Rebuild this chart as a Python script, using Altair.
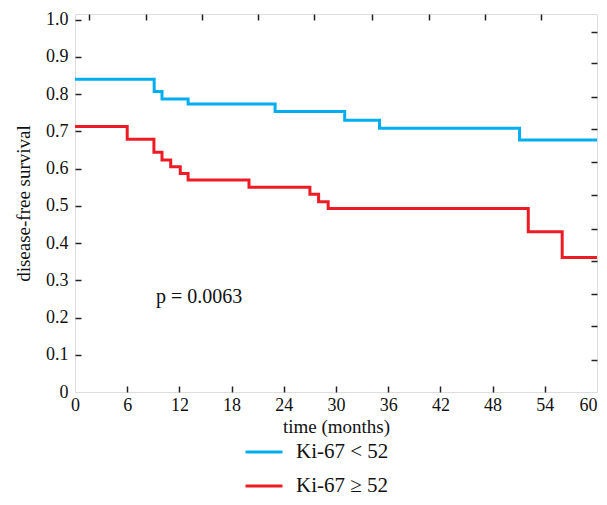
import altair as alt
import pandas as pd

# ---- data ----
groups = ["Ki-67 < 52", "Ki-67 ≥ 52"]
colors = ["#00AEEF", "#ED1C24"]

blue_t = [0, 9.1, 10, 13, 23, 31, 35, 51.1, 60]
blue_s = [0.840, 0.807, 0.787, 0.773, 0.753, 0.730, 0.708, 0.677, 0.677]

red_t = [0, 6, 9.07, 10, 11, 12.1, 13, 20, 27, 28, 29.1, 52.1, 56, 60]
red_s = [0.713, 0.679, 0.644, 0.623, 0.605, 0.587, 0.569, 0.550, 0.531,
         0.511, 0.493, 0.430, 0.361, 0.361]

x_ticks = [0, 6, 12, 18, 24, 30, 36, 42, 48, 54, 60]
y_ticks = [0, 0.1, 0.2, 0.3, 0.4, 0.5, 0.6, 0.7, 0.8, 0.9, 1.0]
top_ticks = [1.62, 8.13, 14.55, 20.98, 27.5, 34.1, 40.7, 47.15, 53.57]
right_ticks = [0.086, 0.176, 0.263, 0.352, 0.438, 0.530, 0.617, 0.706,
               0.792, 0.883, 0.968]

p_label = ["p = 0.0063"]
p_x = [9.3]
p_y = [0.255]

# ---- tables ----
df = pd.DataFrame({
    "t": blue_t + red_t,
    "s": blue_s + red_s,
    "g": [groups[0]] * len(blue_t) + [groups[1]] * len(red_t),
})
ptxt = pd.DataFrame({"label": p_label, "x": p_x, "y": p_y})

FONT = "Liberation Serif"
xs = alt.Scale(domain=[0, 60], nice=False, zero=False)
ys = alt.Scale(domain=[0, 1.015], nice=False)

lines = alt.Chart(df).mark_line(interpolate="step-after", strokeWidth=3).encode(
    x=alt.X("t:Q", scale=xs, axis=alt.Axis(
        orient="bottom", values=x_ticks, title="time (months)", tickSize=0,
        labelPadding=4, titlePadding=3, domain=False, grid=False,
        labelFont=FONT, labelFontSize=18, labelColor="#111",
        labelAlign={"condition": {"test": "datum.value >= 60", "value": "right"},
                    "value": "center"},
        titleFont=FONT, titleFontSize=19, titleFontWeight="normal", titleColor="#111",
        labelFlush=False)),
    y=alt.Y("s:Q", scale=ys, axis=alt.Axis(
        orient="left", values=y_ticks,
        labelExpr="datum.value == 0 ? '0' : format(datum.value, '.1f')",
        title="disease-free survival", tickSize=0, labelPadding=7, titlePadding=12,
        domain=False, grid=False,
        labelFont=FONT, labelFontSize=18, labelColor="#111",
        titleFont=FONT, titleFontSize=19, titleFontWeight="normal", titleColor="#111")),
    color=alt.Color("g:N", scale=alt.Scale(domain=groups, range=colors),
                    legend=alt.Legend(
                        orient="none", legendX=169, legendY=418, title=None,
                        symbolType="stroke", symbolSize=1369, symbolStrokeWidth=3,
                        labelFont=FONT, labelFontSize=21, labelColor="#111",
                        labelOffset=12, rowPadding=4, padding=0, labelLimit=300)),
)

inner_lb = alt.Chart(df).mark_point(opacity=0).encode(
    x=alt.X("t:Q", scale=xs, axis=alt.Axis(
        orient="bottom", values=x_ticks[1:-1], offset=-6, tickSize=6, tickWidth=1.5,
        tickColor="#222", labels=False, domain=False, grid=False, title=None)),
    y=alt.Y("s:Q", scale=ys, axis=alt.Axis(
        orient="left", values=y_ticks[1:], offset=-6, tickSize=6, tickWidth=1.5,
        tickColor="#222", labels=False, domain=False, grid=False, title=None)),
)

inner_tr = alt.Chart(df).mark_point(opacity=0).encode(
    x=alt.X("t:Q", scale=xs, axis=alt.Axis(
        orient="top", values=top_ticks, offset=-6, tickSize=6, tickWidth=1.5,
        tickColor="#222", labels=False, domain=False, grid=False, title=None)),
    y=alt.Y("s:Q", scale=ys, axis=alt.Axis(
        orient="right", values=right_ticks, offset=-6, tickSize=6, tickWidth=1.5,
        tickColor="#222", labels=False, domain=False, grid=False, title=None)),
)

ptext = alt.Chart(ptxt).mark_text(
    align="left", baseline="middle", font=FONT, fontSize=20, color="#111"
).encode(
    x=alt.X("x:Q", scale=xs, axis=None),
    y=alt.Y("y:Q", scale=ys, axis=None),
    text="label:N",
)

chart = alt.layer(lines, inner_lb, inner_tr, ptext).resolve_axis(
    x="independent", y="independent"
).properties(
    width=522, height=378,
    autosize=alt.AutoSizeParams(type="none"),
    padding={"left": 67, "top": 6, "right": 2, "bottom": 105},
).configure_view(stroke="#222", strokeWidth=1.5).configure(background="white")

chart.save("out.html", embed_options={"renderer": "svg", "actions": False})
